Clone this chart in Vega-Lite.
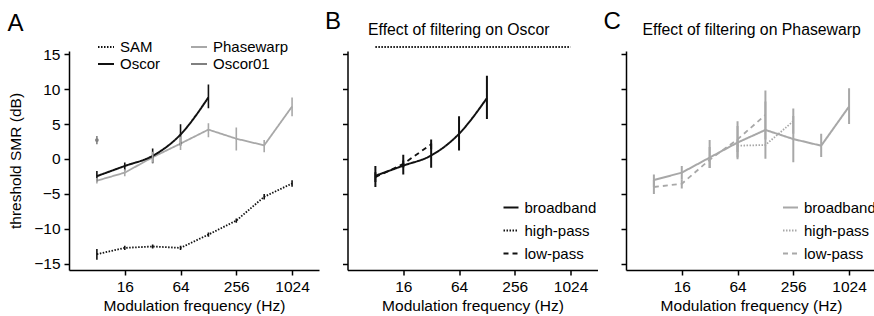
{
  "$schema": "https://vega.github.io/schema/vega-lite/v6.json",
  "autosize": {"type": "pad"},
  "padding": {"left": 7, "top": 9, "right": 0, "bottom": 0},
  "config": {
    "font": "Liberation Sans",
    "view": {"stroke": null},
    "axis": {"grid": false, "domainColor": "black", "domainWidth": 1.5, "tickColor": "black", "tickWidth": 1.5, "tickSize": 5, "labelFontSize": 15.5, "labelColor": "black", "labelFont": "Liberation Sans", "titleFontSize": 15.5, "titleFontWeight": "normal", "titleColor": "black", "titleFont": "Liberation Sans", "labelPadding": 4},
    "legend": {"labelFontSize": 15, "labelColor": "black", "labelFont": "Liberation Sans", "symbolType": "stroke", "symbolStrokeWidth": 2, "labelOffset": 5, "padding": 0}
  },
  "datasets": {
    "d": [
      {"p": "A", "s": "SAM", "f": 8, "v": -13.6, "lo": -14.4, "hi": -12.85},
      {"p": "A", "s": "SAM", "f": 16, "v": -12.7, "lo": -13.0, "hi": -12.4},
      {"p": "A", "s": "SAM", "f": 32, "v": -12.5, "lo": -12.8, "hi": -12.2},
      {"p": "A", "s": "SAM", "f": 64, "v": -12.7, "lo": -13.0, "hi": -12.4},
      {"p": "A", "s": "SAM", "f": 128, "v": -10.8, "lo": -11.1, "hi": -10.5},
      {"p": "A", "s": "SAM", "f": 256, "v": -8.8, "lo": -9.1, "hi": -8.5},
      {"p": "A", "s": "SAM", "f": 512, "v": -5.4, "lo": -5.8, "hi": -5.0},
      {"p": "A", "s": "SAM", "f": 1024, "v": -3.5, "lo": -3.95, "hi": -3.05},
      {"p": "A", "s": "Oscor", "f": 8, "v": -2.45, "lo": -3.2, "hi": -1.7},
      {"p": "A", "s": "Oscor", "f": 16, "v": -1.0, "lo": -1.65, "hi": -0.5},
      {"p": "A", "s": "Oscor", "f": 32, "v": 0.45, "lo": -0.6, "hi": 1.5},
      {"p": "A", "s": "Oscor", "f": 64, "v": 3.5, "lo": 1.9, "hi": 4.95},
      {"p": "A", "s": "Oscor", "f": 128, "v": 8.8, "lo": 7.25, "hi": 10.65},
      {"p": "A", "s": "Phasewarp", "f": 8, "v": -3.1, "lo": -3.5, "hi": -2.7},
      {"p": "A", "s": "Phasewarp", "f": 16, "v": -1.95, "lo": -2.45, "hi": -1.45},
      {"p": "A", "s": "Phasewarp", "f": 32, "v": 0.25, "lo": -0.55, "hi": 1.05},
      {"p": "A", "s": "Phasewarp", "f": 64, "v": 2.2, "lo": 1.3, "hi": 3.2},
      {"p": "A", "s": "Phasewarp", "f": 128, "v": 4.2, "lo": 3.1, "hi": 5.1},
      {"p": "A", "s": "Phasewarp", "f": 256, "v": 2.9, "lo": 1.2, "hi": 4.5},
      {"p": "A", "s": "Phasewarp", "f": 512, "v": 1.95, "lo": 0.95, "hi": 2.7},
      {"p": "A", "s": "Phasewarp", "f": 1024, "v": 7.5, "lo": 6.1, "hi": 8.8},
      {"p": "A", "s": "Oscor01", "f": 8, "v": 2.7, "lo": 2.1, "hi": 3.3},
      {"p": "B", "s": "broadband", "f": 8, "v": -2.4, "lo": -4.0, "hi": -1.0},
      {"p": "B", "s": "broadband", "f": 16, "v": -0.95, "lo": -2.2, "hi": 0.6},
      {"p": "B", "s": "broadband", "f": 32, "v": 0.5, "lo": -1.25, "hi": 2.2},
      {"p": "B", "s": "broadband", "f": 64, "v": 3.6, "lo": 1.2, "hi": 6.1},
      {"p": "B", "s": "broadband", "f": 128, "v": 8.7, "lo": 5.7, "hi": 11.9},
      {"p": "B", "s": "low-pass", "f": 8, "v": -2.6, "lo": -3.3, "hi": -1.9},
      {"p": "B", "s": "low-pass", "f": 16, "v": -0.7, "lo": -1.2, "hi": -0.2},
      {"p": "B", "s": "low-pass", "f": 32, "v": 2.1, "lo": 1.4, "hi": 2.8},
      {"p": "B", "s": "high-pass", "f": 8, "v": 16},
      {"p": "B", "s": "high-pass", "f": 16, "v": 16},
      {"p": "B", "s": "high-pass", "f": 32, "v": 16},
      {"p": "B", "s": "high-pass", "f": 64, "v": 16},
      {"p": "B", "s": "high-pass", "f": 128, "v": 16},
      {"p": "B", "s": "high-pass", "f": 256, "v": 16},
      {"p": "B", "s": "high-pass", "f": 512, "v": 16},
      {"p": "B", "s": "high-pass", "f": 1024, "v": 16},
      {"p": "C", "s": "broadband", "f": 8, "v": -3.0, "lo": -4.0, "hi": -2.2},
      {"p": "C", "s": "broadband", "f": 16, "v": -1.95, "lo": -2.9, "hi": -1.0},
      {"p": "C", "s": "broadband", "f": 32, "v": 0.2, "lo": -1.3, "hi": 1.7},
      {"p": "C", "s": "broadband", "f": 64, "v": 2.35, "lo": -0.05, "hi": 4.7},
      {"p": "C", "s": "broadband", "f": 128, "v": 4.15, "lo": 0.05, "hi": 8.2},
      {"p": "C", "s": "broadband", "f": 256, "v": 2.85, "lo": -0.45, "hi": 6.15},
      {"p": "C", "s": "broadband", "f": 512, "v": 1.9, "lo": 0.3, "hi": 3.6},
      {"p": "C", "s": "broadband", "f": 1024, "v": 7.5, "lo": 5.0, "hi": 10.1},
      {"p": "C", "s": "low-pass", "f": 8, "v": -4.0, "lo": -5.0, "hi": -3.0},
      {"p": "C", "s": "low-pass", "f": 16, "v": -3.55, "lo": -4.2, "hi": -2.9},
      {"p": "C", "s": "low-pass", "f": 32, "v": -0.1, "lo": -1.3, "hi": 2.7},
      {"p": "C", "s": "low-pass", "f": 64, "v": 2.8, "lo": 0.2, "hi": 5.4},
      {"p": "C", "s": "low-pass", "f": 128, "v": 6.3, "lo": 2.8, "hi": 9.8},
      {"p": "C", "s": "high-pass", "f": 64, "v": 1.9, "lo": 1.0, "hi": 2.8},
      {"p": "C", "s": "high-pass", "f": 128, "v": 2.0},
      {"p": "C", "s": "high-pass", "f": 256, "v": 5.4, "lo": 3.6, "hi": 7.2}
    ]
  },
  "data": {"name": "d"},
  "spacing": 28.5,
  "bounds": "flush",
  "resolve": {"scale": {"x": "independent", "y": "independent", "color": "independent", "strokeDash": "independent"}},
  "hconcat": [
    {
      "width": 250, "height": 219,
      "transform": [{"filter": "datum.p === 'A'"}],
      "resolve": {"axis": {"x": "independent"}},
      "encoding": {
        "x": {"field": "f", "type": "quantitative", "scale": {"type": "log", "domain": [4, 2000], "nice": false}, "axis": null},
        "y": {"field": "v", "type": "quantitative", "scale": {"domain": [-15.86, 15.43], "nice": false, "zero": false}, "axis": {"values": [-15, -10, -5, 0, 5, 10, 15], "title": "threshold SMR (dB)", "titlePadding": 10}},
        "color": {"field": "s", "type": "nominal", "scale": {"domain": ["SAM", "Oscor", "Phasewarp", "Oscor01"], "range": ["#111111", "#111111", "#a8a8a8", "#808080"]},
          "legend": {"orient": "none", "legendX": 28, "legendY": -13, "columns": 2, "title": null, "columnPadding": 26, "rowPadding": 0, "symbolSize": 256}},
        "strokeDash": {"field": "s", "type": "nominal", "scale": {"domain": ["SAM", "Oscor", "Phasewarp", "Oscor01"], "range": [[1.5, 1.5], [1, 0], [1, 0], [1, 0]]},
          "legend": {"orient": "none", "legendX": 28, "legendY": -13, "columns": 2, "title": null, "columnPadding": 26, "rowPadding": 0, "symbolSize": 256}}
      },
      "layer": [
        {"transform": [{"filter": "datum.s === 'SAM' || datum.s === 'Phasewarp'"}], "mark": {"type": "line", "strokeWidth": 1.8},
          "encoding": {"x": {"field": "f", "type": "quantitative", "scale": {"type": "log", "domain": [4, 2000], "nice": false}, "axis": {"orient": "bottom", "values": [16, 64, 256, 1024], "format": "d", "title": "Modulation frequency (Hz)"}}}},
        {"transform": [{"filter": "datum.s === 'Oscor'"}], "mark": {"type": "line", "strokeWidth": 2, "interpolate": "monotone"}},
        {"mark": {"type": "rule", "strokeWidth": 1.6},
          "encoding": {"x": {"field": "f", "type": "quantitative", "scale": {"type": "log", "domain": [4, 2000], "nice": false}, "axis": {"orient": "top", "domain": false, "ticks": false, "labels": false, "title": "A", "titleFontSize": 24, "titleX": -62, "titleY": -21, "titleAlign": "left", "titleBaseline": "alphabetic", "titleAngle": 0}},
            "y": {"field": "lo", "type": "quantitative"}, "y2": {"field": "hi"}, "strokeDash": {"value": [1, 0]}}},
        {"transform": [{"filter": "datum.s === 'Oscor01'"}], "mark": {"type": "point", "filled": true, "size": 14, "opacity": 1}, "encoding": {"strokeDash": {"value": [1, 0]}}}
      ]
    },
    {
      "width": 250, "height": 219,
      "transform": [{"filter": "datum.p === 'B'"}],
      "resolve": {"axis": {"x": "independent"}},
      "encoding": {
        "x": {"field": "f", "type": "quantitative", "scale": {"type": "log", "domain": [4, 2000], "nice": false}, "axis": null},
        "y": {"field": "v", "type": "quantitative", "scale": {"domain": [-15.86, 15.43], "nice": false, "zero": false}, "axis": {"values": [-15, -10, -5, 0, 5, 10, 15], "labels": false, "title": "B", "titleFontSize": 24, "titleAngle": 0, "titleX": -23, "titleY": -22.5, "titleAlign": "left", "titleBaseline": "alphabetic"}},
        "color": {"field": "s", "type": "nominal", "scale": {"domain": ["broadband", "high-pass", "low-pass"], "range": ["#111111", "#111111", "#111111"]},
          "legend": {"orient": "none", "legendX": 155, "legendY": 148, "title": null, "rowPadding": 6, "symbolSize": 225}},
        "strokeDash": {"field": "s", "type": "nominal", "scale": {"domain": ["broadband", "high-pass", "low-pass"], "range": [[1, 0], [1.5, 1.5], [5, 4]]},
          "legend": {"orient": "none", "legendX": 155, "legendY": 148, "title": null, "rowPadding": 6, "symbolSize": 225}}
      },
      "layer": [
        {"transform": [{"filter": "datum.s === 'broadband'"}], "mark": {"type": "line", "strokeWidth": 2, "interpolate": "monotone"},
          "encoding": {"x": {"field": "f", "type": "quantitative", "scale": {"type": "log", "domain": [4, 2000], "nice": false}, "axis": {"orient": "bottom", "values": [16, 64, 256, 1024], "format": "d", "title": "Modulation frequency (Hz)"}}}},
        {"transform": [{"filter": "datum.s !== 'broadband'"}], "mark": {"type": "line", "strokeWidth": 1.8, "clip": false},
          "encoding": {"x": {"field": "f", "type": "quantitative", "scale": {"type": "log", "domain": [4, 2000], "nice": false}, "axis": {"orient": "top", "domain": false, "ticks": false, "labels": false, "title": "Effect of filtering on Oscor", "titleFontSize": 15.8, "titleX": 20, "titleY": -17, "titleAlign": "left", "titleBaseline": "alphabetic", "titleAngle": 0}}}},
        {"transform": [{"filter": "isValid(datum.lo)"}], "mark": {"type": "rule", "strokeWidth": 2}, "encoding": {"y": {"field": "lo", "type": "quantitative"}, "y2": {"field": "hi"}, "strokeDash": {"value": [1, 0]}}}
      ]
    },
    {
      "width": 250, "height": 219,
      "transform": [{"filter": "datum.p === 'C'"}],
      "resolve": {"axis": {"x": "independent"}},
      "encoding": {
        "x": {"field": "f", "type": "quantitative", "scale": {"type": "log", "domain": [4, 2000], "nice": false}, "axis": null},
        "y": {"field": "v", "type": "quantitative", "scale": {"domain": [-15.86, 15.43], "nice": false, "zero": false}, "axis": {"values": [-15, -10, -5, 0, 5, 10, 15], "labels": false, "title": "C", "titleFontSize": 24, "titleAngle": 0, "titleX": -23, "titleY": -22.5, "titleAlign": "left", "titleBaseline": "alphabetic"}},
        "color": {"field": "s", "type": "nominal", "scale": {"domain": ["broadband", "high-pass", "low-pass"], "range": ["#a8a8a8", "#a8a8a8", "#a8a8a8"]},
          "legend": {"orient": "none", "legendX": 156, "legendY": 148, "title": null, "rowPadding": 6, "symbolSize": 225}},
        "strokeDash": {"field": "s", "type": "nominal", "scale": {"domain": ["broadband", "high-pass", "low-pass"], "range": [[1, 0], [1.5, 1.5], [5, 4]]},
          "legend": {"orient": "none", "legendX": 156, "legendY": 148, "title": null, "rowPadding": 6, "symbolSize": 225}}
      },
      "layer": [
        {"transform": [{"filter": "datum.s === 'broadband'"}], "mark": {"type": "line", "strokeWidth": 2},
          "encoding": {"x": {"field": "f", "type": "quantitative", "scale": {"type": "log", "domain": [4, 2000], "nice": false}, "axis": {"orient": "bottom", "values": [16, 64, 256, 1024], "format": "d", "title": "Modulation frequency (Hz)"}}}},
        {"transform": [{"filter": "datum.s !== 'broadband'"}], "mark": {"type": "line", "strokeWidth": 1.8},
          "encoding": {"x": {"field": "f", "type": "quantitative", "scale": {"type": "log", "domain": [4, 2000], "nice": false}, "axis": {"orient": "top", "domain": false, "ticks": false, "labels": false, "title": "Effect of filtering on Phasewarp", "titleFontSize": 15.8, "titleX": 16, "titleY": -17, "titleAlign": "left", "titleBaseline": "alphabetic", "titleAngle": 0}}}},
        {"transform": [{"filter": "isValid(datum.lo)"}], "mark": {"type": "rule", "strokeWidth": 2}, "encoding": {"y": {"field": "lo", "type": "quantitative"}, "y2": {"field": "hi"}, "strokeDash": {"value": [1, 0]}}}
      ]
    }
  ]
}
